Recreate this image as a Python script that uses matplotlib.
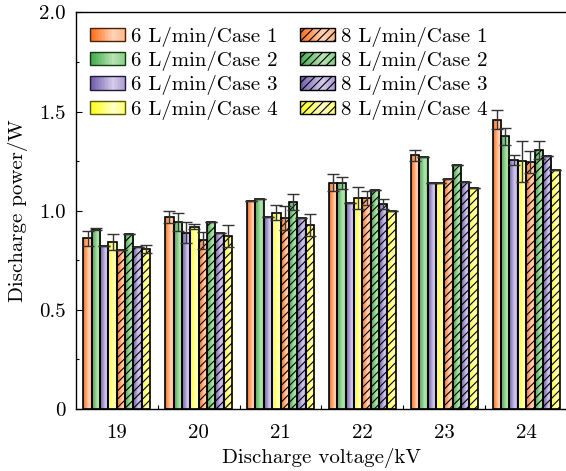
import numpy as np
import matplotlib
matplotlib.use("Agg")
import matplotlib.pyplot as plt
from matplotlib.colors import LinearSegmentedColormap
from matplotlib.patches import Patch, Rectangle
from matplotlib.legend_handler import HandlerBase
from matplotlib.ticker import FixedLocator, FuncFormatter

plt.rcParams['font.family'] = ['cmr10', 'DejaVu Serif']
plt.rcParams['mathtext.fontset'] = 'cm'
plt.rcParams['axes.formatter.use_mathtext'] = True
plt.rcParams['hatch.linewidth'] = 0.8

voltages = ["19", "20", "21", "22", "23", "24"]
series_labels = ["6 L/min/Case 1", "6 L/min/Case 2", "6 L/min/Case 3", "6 L/min/Case 4",
                 "8 L/min/Case 1", "8 L/min/Case 2", "8 L/min/Case 3", "8 L/min/Case 4"]

power_6_c1 = [0.86, 0.97, 1.05, 1.14, 1.28, 1.46]
power_6_c2 = [0.91, 0.945, 1.06, 1.14, 1.27, 1.375]
power_6_c3 = [0.82, 0.89, 0.97, 1.04, 1.14, 1.258]
power_6_c4 = [0.842, 0.92, 0.99, 1.064, 1.14, 1.249]
power_8_c1 = [0.803, 0.85, 0.963, 1.064, 1.16, 1.247]
power_8_c2 = [0.882, 0.943, 1.045, 1.103, 1.231, 1.305]
power_8_c3 = [0.816, 0.89, 0.963, 1.032, 1.146, 1.276]
power_8_c4 = [0.806, 0.872, 0.928, 1.0, 1.116, 1.204]

err_6_c1 = [0.037, 0.03, 0.0, 0.043, 0.028, 0.048]
err_6_c2 = [0.005, 0.045, 0.0, 0.03, 0.0, 0.042]
err_6_c3 = [0.0, 0.055, 0.0, 0.0, 0.0, 0.025]
err_6_c4 = [0.04, 0.012, 0.037, 0.054, 0.0, 0.103]
err_8_c1 = [0.0, 0.042, 0.06, 0.034, 0.0, 0.055]
err_8_c2 = [0.0, 0.0, 0.04, 0.0, 0.0, 0.045]
err_8_c3 = [0.0, 0.0, 0.0, 0.025, 0.0, 0.0]
err_8_c4 = [0.02, 0.055, 0.055, 0.0, 0.0, 0.0]

values = [power_6_c1, power_6_c2, power_6_c3, power_6_c4,
          power_8_c1, power_8_c2, power_8_c3, power_8_c4]
errors = [err_6_c1, err_6_c2, err_6_c3, err_6_c4,
          err_8_c1, err_8_c2, err_8_c3, err_8_c4]

# gradient stops (left, middle, right) for each case
grad_colors = [
    ("#FF6A10", "#FFD3B8", "#FFB68A"),
    ("#3FA84A", "#B9E3B2", "#86CF86"),
    ("#6B58A8", "#D4CCEA", "#A898D0"),
    ("#FFFF10", "#FFFFC8", "#FFFF70"),
]
legend_edges = ["#4A2000", "#103A10", "#201838", "#5A5A00"]

cmaps = [LinearSegmentedColormap.from_list(
    f"g{c}", [(0, gc[0]), (0.65, gc[1]), (1, gc[2])]) for c, gc in enumerate(grad_colors)]


class GradientHandler(HandlerBase):
    def __init__(self, cmap, hatch, edge):
        super().__init__()
        self.cmap = cmap
        self.hatch = hatch
        self.edge = edge

    def create_artists(self, legend, orig_handle, xdescent, ydescent, width, height,
                       fontsize, trans):
        arts = []
        N = 24
        for k in range(N):
            arts.append(Rectangle((-xdescent + k * width / N, -ydescent), width / N * 1.05, height,
                                  facecolor=self.cmap((k + 0.5) / N), edgecolor='none',
                                  linewidth=0, transform=trans))
        arts.append(Rectangle((-xdescent, -ydescent), width, height, facecolor='none',
                              edgecolor=self.edge, linewidth=1.0, hatch=self.hatch,
                              transform=trans))
        return arts


FS = 15

fig = plt.figure(figsize=(5.66, 4.71), dpi=100)
ax = fig.add_axes([0.134, 0.1316, 0.868, 0.842])

x = np.arange(len(voltages))
n = len(values)
width = 0.102
offsets = (np.arange(n) - (n - 1) / 2) * width

grad = np.linspace(0, 1, 64).reshape(1, -1)

for i in range(n):
    case = i % 4
    hatched = i >= 4
    xs = x + offsets[i]
    bars = ax.bar(xs, values[i], width, color='none', edgecolor='black', linewidth=1.2, zorder=3)
    for b in bars:
        bx, by = b.get_x(), b.get_y()
        bw, bh = b.get_width(), b.get_height()
        im = ax.imshow(grad, cmap=cmaps[case], extent=[bx, bx + bw, by, by + bh],
                       aspect='auto', zorder=2, interpolation='bilinear')
        im.set_clip_path(b)
    if hatched:
        ax.bar(xs, values[i], width, color='none', edgecolor='black', linewidth=0,
               hatch='////', zorder=3.5)
    ax.errorbar(xs, values[i], yerr=errors[i], fmt='none', ecolor='#333333',
                elinewidth=1.0, capsize=4, capthick=1.0, zorder=4)

ax.set_xlim(-0.5, len(voltages) - 0.5)
ax.set_ylim(0, 2.0)
ax.set_aspect('auto')

ax.set_xticks(x)
ax.set_xticklabels(voltages)
ax.xaxis.set_minor_locator(FixedLocator(x[:-1] + 0.5))
ax.tick_params(axis='x', which='major', length=0, pad=11)
ax.tick_params(axis='x', which='minor', direction='in', length=3, width=0.8)
ax.set_yticks([0, 0.5, 1.0, 1.5, 2.0])
ax.yaxis.set_major_formatter(FuncFormatter(lambda v, p: "0" if v == 0 else f"{v:.1f}"))
ax.yaxis.set_minor_locator(FixedLocator([0.25, 0.75, 1.25, 1.75]))
ax.tick_params(axis='y', which='major', direction='in', length=4, width=0.8, pad=7)
ax.tick_params(axis='y', which='minor', direction='in', length=2.5, width=0.8)
ax.tick_params(labelsize=FS)
for s in ax.spines.values():
    s.set_linewidth(1.0)

ax.set_xlabel("Discharge voltage/kV", fontsize=FS, labelpad=4)
ax.set_ylabel("Discharge power/W", fontsize=FS, labelpad=8)

handles = []
handler_map = {}
for i in range(n):
    case = i % 4
    h = Patch(facecolor='none', label=series_labels[i])
    handles.append(h)
    handler_map[h] = GradientHandler(cmaps[case], '////' if i >= 4 else None,
                                     legend_edges[case] if i < 4 else 'black')
ax.legend(handles=handles, handler_map=handler_map, ncol=2, loc='upper left', frameon=False,
          fontsize=FS, handlelength=1.68, handleheight=0.6, handletextpad=0.29,
          columnspacing=1.05, labelspacing=0.2, borderaxespad=0.4, borderpad=0.3,
          bbox_to_anchor=(0.0, 1.0))

fig.savefig("out.png", dpi=100)
